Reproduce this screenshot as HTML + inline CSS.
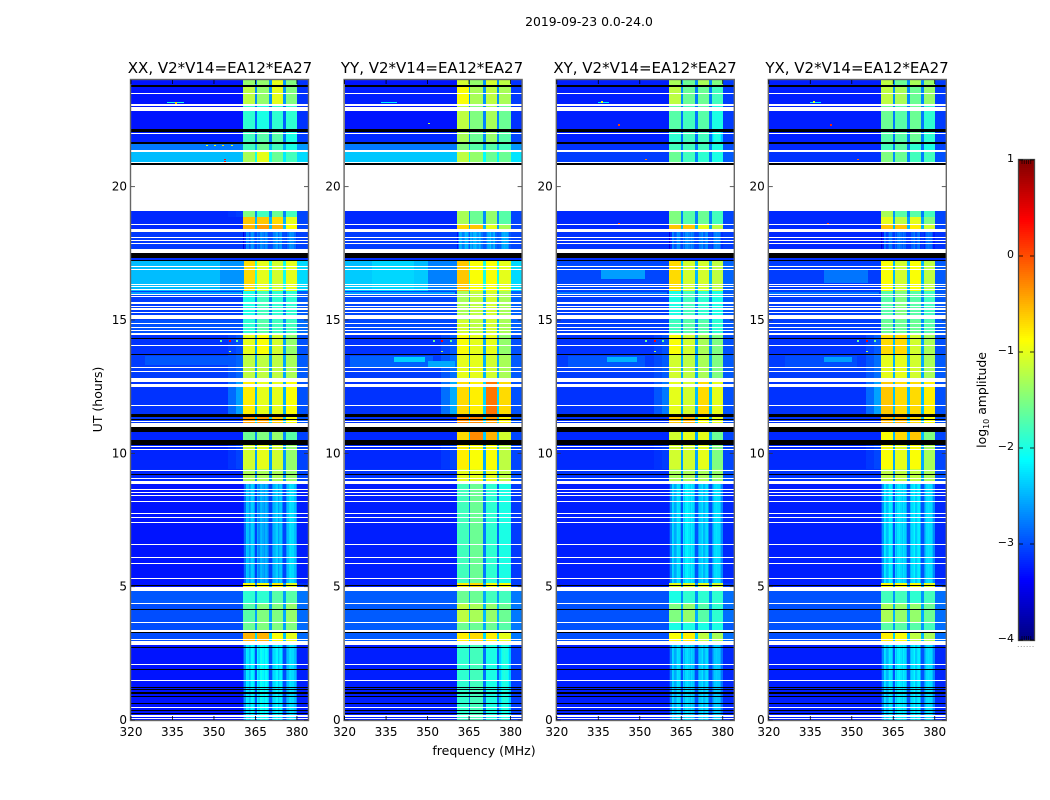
<!DOCTYPE html>
<html lang="en">
<head>
<meta charset="utf-8">
<title>2019-09-23 amplitude spectrogram</title>
<style>
  html,body{margin:0;padding:0;background:#fff;}
  svg{display:block;font-family:"DejaVu Sans","Liberation Sans",sans-serif;fill:#000;}
</style>
</head>
<body>
<svg id="figure" xmlns="http://www.w3.org/2000/svg" width="1050" height="800" viewBox="0 0 1050 800">
  <text x="589" y="26" font-size="12.4" text-anchor="middle">2019-09-23 0.0-24.0</text>
  <g id="panel-0"></g>
  <g id="panel-1"></g>
  <g id="panel-2"></g>
  <g id="panel-3"></g>
  <text x="220" y="73" font-size="15" text-anchor="middle">XX, V2*V14=EA12*EA27</text>
  <text x="432" y="73" font-size="15" text-anchor="middle">YY, V2*V14=EA12*EA27</text>
  <text x="645" y="73" font-size="15" text-anchor="middle">XY, V2*V14=EA12*EA27</text>
  <text x="857" y="73" font-size="15" text-anchor="middle">YX, V2*V14=EA12*EA27</text>
  <text transform="translate(102,399.5) rotate(-90)" font-size="12.5" text-anchor="middle">UT (hours)</text>
  <text x="484" y="755" font-size="12.5" text-anchor="middle">frequency (MHz)</text>
  <g id="colorbar"></g>
  <text transform="translate(986,400) rotate(-90)" font-size="12.4" text-anchor="middle">log<tspan font-size="8" dy="3">10</tspan><tspan dy="-3"> amplitude</tspan></text>
  <text x="1017" y="647" font-size="8" fill="#888" letter-spacing="0.4">......</text>
</svg>
<script>
// ---- axis data ----
const freqTicksMHz = [320, 335, 350, 365, 380];
const utTicksHours = [0, 5, 10, 15, 20];
const colorbarTicks = [1, 0, -1, -2, -3, -4];
const colorbarTickLabels = ["1", "0", "\u22121", "\u22122", "\u22123", "\u22124"];
const colorbarMinorTicks = [-3.97, -3.985, -3.95, -3.93, -3.9, 0.9, 0.93, 0.95, 0.97, 0.985];

// ---- spectral windows (MHz) and fine channel structure in quiet hours ----
const windowEdgesMHz = [[360.7, 364.9], [365.65, 370.1], [370.8, 375.2], [375.9, 380.0]];
const quietWindowShape = [
  [-0.7, -0.35, 0.1, 0.05, -0.15, -0.05, 0.15, 0.1, -0.1],
  [0.05, -0.1, 0.1, 0.15, 0.05, -0.05, 0.1, 0.0, -0.2],
  [-0.2, 0.0, 0.05, 0.15, 0.1, -0.1, 0.05, 0.1, -0.25],
  [-0.25, -0.05, 0.1, -0.05, 0.15, 0.1, 0.1, -0.05, -0.3]
];

// ---- time segments (UT hours): each row of a panel's levels applies from here to the next start ----
const segmentStartsUT = [0, 2.8, 3.3, 3.65, 4.35, 5.0, 5.12, 8.97, 9.4, 10.5, 11.0, 11.46, 12.81, 13.7, 14.5, 15.0, 16.1, 17.66, 18.3, 18.6, 18.85, 19.09, 20.875, 21.36, 21.66, 22.16, 23.09, 23.81];

// ---- log10 amplitude per segment: [background, window1, window2, window3, window4, shoulder gain] ----
const xxLevels = [
  [-3.28,-2.3,-2.2,-2.3,-2.4,0],[-3,-.5,-.5,-.9,-1,0],[-3,-1.6,-1.5,-1.5,-1.5,0],[-3,-1.7,-1.5,-1.5,-1.4,0],
  [-2.95,-1.9,-1.9,-1.7,-1.7,0],[-3.28,-.9,-.9,-.8,-1,0],[-3.28,-2.5,-2.6,-2.5,-2.4,0],[-3.18,-1.3,-1.3,-1.3,-1.4,0],
  [-3.2,-1.1,-1,-1.1,-1.4,.15],[-3.2,-1.6,-1.5,-1.4,-1.7,0],[-3.1,-.4,-.4,-.6,-.9,0],[-3.13,-.8,-1,-1,-.9,.55],
  [-3.08,-1.2,-1.2,-1.2,-1.3,.2],[-3.13,-1,-.9,-1.1,-1.4,.15],[-2.98,-1.9,-1.7,-1.8,-1.8,0],[-3.08,-2,-1.8,-1.9,-1.9,0],
  [-2.45,-.7,-1,-1.1,-1,0],[-3.1,-2.8,-2.8,-2.75,-2.8,0],[-3.18,-.5,-.4,-.5,-.9,0],[-3.18,-.6,-.6,-.7,-1,0],
  [-3.18,-1.5,-1.8,-1.6,-1.8,.1],[-3.18,-1.5,-1.8,-1.6,-1.8,.1],[-2.45,-1.3,-1,-1.6,-1.8,0],[-2.78,-1.8,-1.6,-1.8,-2,0],
  [-3.23,-1.8,-1.7,-1.7,-2,0],[-3.28,-1.9,-2,-1.9,-1.9,0],[-3.28,-1.2,-1.4,-1,-1.5,0],[-3.28,-1.4,-1.4,-1,-1.5,0]
];
const yyLevels = [
  [-3.23,-1.9,-1.8,-2,-2.1,0],[-2.93,-.8,-.7,-.8,-1,0],[-2.93,-1.6,-1.6,-1.6,-1.7,0],[-2.93,-1.2,-1.3,-1.4,-1.6,0],
  [-2.93,-1.6,-1.6,-1.8,-1.8,0],[-3.23,-.8,-.7,-.9,-.9,0],[-3.23,-1.8,-1.6,-1.9,-2,0],[-3.13,-1,-1,-1,-1.2,0],
  [-3.18,-.8,-.9,-.9,-1.2,.15],[-3.18,-.7,-.3,-.5,-1.1,0],[-3.13,-.3,-.3,-.4,-.8,0],[-3.13,-.7,-.8,-.2,-.7,.6],
  [-3.08,-1,-1,-1.1,-1.3,.25],[-3.13,-.9,-1,-1,-1.4,.2],[-3.03,-1.1,-1.2,-1.1,-1.3,0],[-3.03,-1.3,-1.2,-1.1,-1.3,0],
  [-2.45,-.6,-.9,-.9,-1,0],[-3.08,-2.6,-2.6,-2.6,-2.65,0],[-3.18,-.7,-.6,-1,-1.3,0],[-3.18,-1.3,-1.6,-1.4,-1.7,0],
  [-3.18,-1.3,-1.6,-1.4,-1.7,0],[-3.18,-1.3,-1.6,-1.4,-1.7,0],[-2.4,-1.2,-1.4,-1.6,-1.6,0],[-2.78,-1.5,-1.7,-1.7,-1.8,0],
  [-3.18,-1.3,-1.6,-1.4,-1.7,0],[-3.28,-1.2,-1.5,-1.3,-1.6,0],[-3.23,-.9,-1.3,-1.2,-1.3,0],[-3.28,-1.1,-1.4,-1.1,-1.2,0]
];
const xyLevels = [
  [-3.23,-2.4,-2.4,-2.4,-2.5,0],[-2.98,-.9,-.8,-1.2,-1.3,0],[-2.98,-2,-2,-2,-2,0],[-2.98,-1.5,-1.4,-1.7,-1.9,0],
  [-2.98,-2,-1.9,-1.9,-1.9,0],[-3.23,-1,-1,-1,-1.1,0],[-3.23,-2.4,-2.3,-2.4,-2.4,0],[-3.13,-1.3,-1.3,-1.3,-1.4,0],
  [-3.18,-1.1,-1.1,-1,-1.5,.1],[-3.18,-1.1,-1,-1,-1.6,0],[-3.13,-.6,-.5,-.9,-1,0],[-3.13,-1,-1.1,-.7,-1,.35],
  [-3.08,-1.1,-1.2,-1.3,-1.5,.15],[-3.13,-.9,-1.1,-1.3,-1.5,.15],[-3.08,-1.8,-1.7,-1.7,-1.9,0],[-3.08,-2,-1.8,-1.9,-2,0],
  [-3.03,-.7,-1.1,-1.1,-1.2,0],[-3.13,-2.8,-2.8,-2.8,-2.85,0],[-3.18,-.6,-.6,-1,-1.2,0],[-3.18,-1.5,-1.7,-1.6,-1.8,0],
  [-3.18,-1.5,-1.7,-1.6,-1.8,0],[-3.18,-1.5,-1.7,-1.6,-1.8,0],[-3.08,-1.6,-1.8,-1.9,-2,0],[-3.13,-1.8,-1.8,-1.8,-2,0],
  [-3.23,-1.9,-1.8,-1.8,-2.1,0],[-3.23,-1.7,-1.8,-1.7,-2,0],[-3.23,-1.2,-1.6,-1.6,-1.8,0],[-3.23,-1.3,-1.6,-1.3,-1.5,0]
];
const yxLevels = [
  [-3.23,-2.35,-2.3,-2.3,-2.4,0],[-2.98,-.8,-.9,-1.2,-1.3,0],[-2.98,-1.7,-1.7,-1.7,-1.8,0],[-2.98,-1.3,-1.4,-1.4,-1.6,0],
  [-2.98,-1.8,-1.8,-1.9,-1.8,0],[-3.23,-.9,-.9,-.9,-1,0],[-3.23,-2.3,-2.35,-2.3,-2.4,0],[-3.13,-1.2,-1.2,-1.2,-1.3,0],
  [-3.18,-.9,-1,-.9,-1.3,.15],[-3.18,-.9,-.7,-.6,-1.5,0],[-3.13,-.5,-.5,-.7,-.9,0],[-3.13,-.6,-.7,-.7,-.8,.55],
  [-3.08,-1,-1,-1.1,-1.3,.25],[-3.13,-.7,-.7,-1.1,-1.3,.2],[-3.08,-1.6,-1.6,-1.6,-1.7,0],[-3.08,-1.7,-1.5,-1.7,-1.8,0],
  [-3.08,-.9,-1.1,-.9,-1.2,0],[-3.18,-2.9,-2.9,-2.9,-2.95,0],[-3.18,-.6,-.6,-.8,-1.1,0],[-3.18,-1,-1.2,-1,-1.5,0],
  [-3.18,-1.3,-1.7,-1.7,-1.8,0],[-3.18,-1.3,-1.7,-1.7,-1.8,0],[-3.13,-1.5,-1.6,-1.8,-1.8,0],[-3.18,-1.8,-1.7,-1.9,-2,0],
  [-3.23,-1.7,-1.7,-1.6,-1.9,0],[-3.23,-1.6,-1.7,-1.6,-1.9,0],[-3.23,-1.2,-1.3,-1.6,-1.4,0],[-3.23,-1.2,-1.6,-1.3,-1.4,0]
];
const panelLevels = [xxLevels, yyLevels, xyLevels, yxLevels];

// ---- flagged time ranges (UT hours), identical across the four panels ----
const whiteFlagsUT = [
  [.04,.08],[.12,.17],[.45,.49],[1.46,1.5],[2.06,2.1],[2.8,2.95],[3,3.04],[3.3,3.375],[3.64,3.68],[4.35,4.39],[4.84,4.99],
  [5.29,5.32],[5.85,5.89],[6.07,6.11],[6.56,6.6],[7.4,7.44],[7.575,7.61],[7.725,7.76],[8.16,8.2],[8.4,8.44],[8.5,8.54],
  [8.61,8.65],[8.86,8.97],[9.03,9.06],[9.34,9.375],[10.11,10.15],[10.24,10.275],[11,11.125],[11.175,11.22],[11.775,11.81],
  [12.49,12.6],[12.675,12.81],[13.06,13.1],[13.19,13.225],[14.025,14.06],[14.44,14.5],[14.575,14.625],[14.71,14.75],
  [14.84,14.875],[15.025,15.175],[15.25,15.3],[15.39,15.44],[15.5,15.535],[15.6,15.675],[15.86,15.9],[15.94,15.975],
  [16.125,16.18],[16.24,16.275],[16.31,16.35],[16.875,16.91],[16.975,17.01],[17.525,17.66],[17.85,17.89],[17.95,17.99],
  [18.06,18.1],[18.3,18.425],[18.56,18.6],[19.09,20.825],[20.875,20.91],[21.3,21.36],[21.96,22],[22.84,22.98],[23.025,23.09],[23.475,23.51]
];
const blackFlagsUT = [
  [.22,.27],[.34,.375],[.6,.64],[.85,.89],[.96,1.05],[1.11,1.15],[1.21,1.24],[1.875,1.9],[2.71,2.75],[3.25,3.29],[4.125,4.15],
  [5.03,5.06],[9.18,9.21],[10.31,10.5],[10.8,11],[11.26,11.3],[11.36,11.46],[13.7,13.74],[14.29,14.325],[17.21,17.24],
  [17.34,17.525],[20.825,20.875],[21.6,21.66],[22.04,22.16],[23.75,23.81]
];

// ---- localised features: [panel, UT low, UT high, MHz low, MHz high, log10 amplitude] ----
const featurePatches = [
  [0,17.24,17.34,320,384,-3.15],[1,17.24,17.34,320,384,-3.15],[2,17.24,17.34,320,384,-3.15],[3,17.24,17.34,320,384,-3.15],
  [1,13.2,13.65,322,352,-2.9],[1,13.42,13.62,338,349,-2.35],[1,13.2,13.45,350,360,-2.55],
  [2,13.25,13.65,324,352,-2.95],[2,13.42,13.62,338,349,-2.5],
  [3,13.25,13.65,326,352,-3],[3,13.42,13.62,340,350,-2.6],
  [0,13.3,13.65,325,358,-2.95],
  [2,16.55,16.9,336,352,-2.6],[3,16.4,16.9,340,356,-2.8],
  [1,16.1,16.9,320,350,-2.38],[1,16.1,17.2,330,345,-2.32],[1,16.1,17.2,350,360.7,-2.75],
  [0,16.1,17.2,352,360.7,-2.65],
  [0,15.95,16.05,320,360,-2.6],[1,15.95,16.05,320,360,-2.6],[2,15.95,16.05,320,360,-2.8],[3,15.95,16.05,320,360,-2.8],
  [0,23.14,23.18,333,339,-2],[1,23.14,23.18,333,339,-2.2],[2,23.14,23.18,335,339,-2.2],[3,23.14,23.18,335,339,-2.2]
];

// ---- narrow RFI spots: [panel, UT, MHz, log10 amplitude] ----
const rfiSpots = [
  [0,23.16,336,-.6],[0,21.58,347,-1],[0,21.58,350,-1],[0,21.58,353,-.7],[0,21.58,356,-1],[0,21.05,353.5,.3],[0,20.98,353.5,.3],
  [0,14.25,355.5,.4],[1,14.25,355,.4],[2,14.25,355,.4],[3,14.25,355,.4],
  [0,14.25,352,-1.6],[1,14.25,352,-1.6],[2,14.25,352,-1.6],[3,14.25,352,-1.6],
  [0,14.25,358,-1.6],[1,14.25,358,-1.6],[2,14.25,358,-1.6],[3,14.25,358,-1.6],
  [0,13.85,355.5,-1.2],[1,13.85,355,-1.2],[2,13.85,355,-1.2],[3,13.85,355,-1.2],
  [2,22.35,342,.1],[3,22.35,342,.2],[2,21.05,352,-.2],[3,21.05,352,-.1],[3,18.65,341,.1],[2,18.65,342,.1],
  [1,23.1,342,-1],[1,22.4,350,-1.2],[2,23.2,336,-1],[3,23.2,336,-1]
];

// ---- geometry and scales ----
const panelLefts = [131, 344.6, 556.8, 768.8];
const panelWidth = 177;
const plotTop = 80;
const plotBottom = 720;
const freqMin = 320;
const freqMax = 384;
const utMax = 24;
const channelWidthMHz = 0.5;
const barLeft = 1019;
const barRight = 1034;
const barTop = 160;
const barBottom = 640;
const levelMin = -4;
const levelMax = 1;

const SVGNS = "http://www.w3.org/2000/svg";
function xScale(panel, mhz) { return panelLefts[panel] + (mhz - freqMin) * panelWidth / (freqMax - freqMin); }
function yScale(ut) { return plotBottom - ut * (plotBottom - plotTop) / utMax; }
function barScale(level) { return barBottom - (level - levelMin) * (barBottom - barTop) / (levelMax - levelMin); }

function jetColor(level) {
  const v = Math.min(1, Math.max(0, (level - levelMin) / (levelMax - levelMin)));
  const clip = (a) => Math.min(1, Math.max(0, a));
  const r = clip(Math.min(4 * v - 1.5, -4 * v + 4.5));
  const g = clip(Math.min(4 * v - 0.5, -4 * v + 3.5));
  const b = clip(Math.min(4 * v + 0.5, -4 * v + 2.5));
  return "rgb(" + Math.round(r * 255) + "," + Math.round(g * 255) + "," + Math.round(b * 255) + ")";
}

function makeRect(parent, x0, x1, y0, y1, fill) {
  const el = document.createElementNS(SVGNS, "rect");
  const xa = Math.round(x0), xb = Math.round(x1);
  const ya = Math.round(y0), yb = Math.round(y1);
  el.setAttribute("x", xa);
  el.setAttribute("y", ya);
  el.setAttribute("width", Math.max(1, xb - xa));
  el.setAttribute("height", Math.max(1, yb - ya));
  el.setAttribute("fill", fill);
  el.setAttribute("shape-rendering", "crispEdges");
  parent.appendChild(el);
  return el;
}

function makeLine(parent, x1, y1, x2, y2, stroke, width) {
  const el = document.createElementNS(SVGNS, "line");
  el.setAttribute("x1", x1);
  el.setAttribute("y1", y1);
  el.setAttribute("x2", x2);
  el.setAttribute("y2", y2);
  el.setAttribute("stroke", stroke);
  el.setAttribute("stroke-width", width);
  parent.appendChild(el);
  return el;
}

function makeText(parent, x, y, anchor, content) {
  const el = document.createElementNS(SVGNS, "text");
  el.setAttribute("x", x);
  el.setAttribute("y", y);
  el.setAttribute("font-size", "12");
  el.setAttribute("text-anchor", anchor);
  el.textContent = content;
  parent.appendChild(el);
  return el;
}

// Level of one channel in one time segment, from that segment's row of values.
function channelLevel(row, mhz) {
  const bg = row[0];
  for (let w = 0; w < windowEdgesMHz.length; w++) {
    const lo = windowEdgesMHz[w][0], hi = windowEdgesMHz[w][1];
    if (mhz >= lo && mhz < hi) {
      const level = row[w + 1];
      if (level < -2) {
        const shape = quietWindowShape[w];
        const idx = Math.min(shape.length - 1, Math.floor((mhz - lo) / (hi - lo) * shape.length));
        return level + shape[idx];
      }
      return level;
    }
    if (w < windowEdgesMHz.length - 1 && mhz >= hi && mhz < windowEdgesMHz[w + 1][0]) {
      return bg + 0.28 * (Math.max(row[w + 1], row[w + 2]) - bg);
    }
  }
  if (mhz >= 358 && mhz < windowEdgesMHz[0][0]) return bg + row[5];
  if (mhz >= 355 && mhz < 358) return bg + row[5] * 0.5;
  if (mhz >= windowEdgesMHz[3][1]) return bg + (Math.max(row[1], row[2], row[3], row[4]) > -2 ? 0.15 : 0.05);
  return bg;
}

function drawPanel(p) {
  const group = document.getElementById("panel-" + p);
  const levels = panelLevels[p];
  const left = panelLefts[p], right = left + panelWidth;
  const channelCount = Math.round((freqMax - freqMin) / channelWidthMHz);

  const cells = document.createElementNS(SVGNS, "g");
  
  
  group.appendChild(cells);

  segmentStartsUT.forEach(function (start, s) {
    const end = s + 1 < segmentStartsUT.length ? segmentStartsUT[s + 1] : utMax;
    const row = levels[s];
    let runStart = 0;
    let runColor = jetColor(channelLevel(row, freqMin + channelWidthMHz / 2));
    for (let c = 1; c <= channelCount; c++) {
      const color = c < channelCount ? jetColor(channelLevel(row, freqMin + (c + 0.5) * channelWidthMHz)) : null;
      if (color !== runColor) {
        const cell = makeRect(cells,
          xScale(p, freqMin + runStart * channelWidthMHz),
          xScale(p, freqMin + c * channelWidthMHz),
          yScale(end), yScale(start), runColor);
        
        
        runStart = c;
        runColor = color;
      }
    }
  });

  featurePatches.forEach(function (f) {
    if (f[0] !== p) return;
    const patch = makeRect(group, xScale(p, f[3]), xScale(p, f[4]), yScale(f[2]), yScale(f[1]), jetColor(f[5]));
    
    
  });

  rfiSpots.forEach(function (f) {
    if (f[0] !== p) return;
    const px = xScale(p, f[2]), py = yScale(f[1]);
    const spot = makeRect(group, px, px + 2, py, py + 1.5, jetColor(f[3]));
    
    
  });

  whiteFlagsUT.forEach(function (f) {
    const flag = makeRect(group, left, right, yScale(f[1]), yScale(f[0]), "#fff");
    
    
  });
  blackFlagsUT.forEach(function (f) {
    const flag = makeRect(group, left, right, yScale(f[1]), yScale(f[0]), "#000");
    
    
  });

  // frame
  const frame = document.createElementNS(SVGNS, "rect");
  frame.setAttribute("x", left - 0.5);
  frame.setAttribute("y", plotTop - 0.5);
  frame.setAttribute("width", panelWidth + 1);
  frame.setAttribute("height", plotBottom - plotTop + 1);
  frame.setAttribute("fill", "none");
  frame.setAttribute("stroke", "#666");
  frame.setAttribute("stroke-width", "1.4");
  
  
  group.appendChild(frame);

  // x ticks
  freqTicksMHz.forEach(function (t) {
    const x = xScale(p, t);
    const tickB = makeLine(group, x, plotBottom, x, plotBottom - 4, "#000", 0.8);
    
    
    const tickT = makeLine(group, x, plotTop, x, plotTop + 4, "#000", 0.8);
    
    
    const label = makeText(group, x, 736, "middle", String(t));
    
    
  });

  // y ticks
  utTicksHours.forEach(function (t) {
    const y = yScale(t);
    const tickL = makeLine(group, left, y, left + 4, y, "#333", 0.8);
    
    
    const tickR = makeLine(group, right, y, right - 4, y, "#333", 0.8);
    
    
    const label = makeText(group, left - 4, y + 4, "end", String(t));
    
    
  });
}

function drawColorbar() {
  const group = document.getElementById("colorbar");
  const steps = 240;
  for (let i = 0; i < steps; i++) {
    const lo = levelMin + (levelMax - levelMin) * i / steps;
    const hi = levelMin + (levelMax - levelMin) * (i + 1) / steps;
    const swatch = makeRect(group, barLeft, barRight, barScale(hi), barScale(lo), jetColor((lo + hi) / 2));
    
    
  }
  const frame = document.createElementNS(SVGNS, "rect");
  frame.setAttribute("x", barLeft - 0.5);
  frame.setAttribute("y", barTop - 0.5);
  frame.setAttribute("width", barRight - barLeft + 1);
  frame.setAttribute("height", barBottom - barTop + 1);
  frame.setAttribute("fill", "none");
  frame.setAttribute("stroke", "#444");
  frame.setAttribute("stroke-width", "1.3");
  
  
  group.appendChild(frame);

  colorbarTicks.forEach(function (t, i) {
    const y = barScale(t);
    const left = makeLine(group, barLeft, y, barLeft + 4, y, "#000", 0.8);
    
    
    const right = makeLine(group, barRight, y, barRight - 4, y, "#000", 0.8);
    
    
    const label = makeText(group, barLeft - 5, y + 2, "end", colorbarTickLabels[i]);
    label.setAttribute("font-size", "11");
    
    
  });

  colorbarMinorTicks.forEach(function (t, i) {
    const x = barLeft + 3 + (i % 5) * 2.2;
    const y0 = t > 0 ? barTop : barBottom;
    const y1 = t > 0 ? barTop + 4 : barBottom - 4;
    const tick = makeLine(group, x, y0, x, y1, "#000", 0.6);
    
    
  });
}

[0, 1, 2, 3].forEach(drawPanel);
drawColorbar();
</script>
</body>
</html>
